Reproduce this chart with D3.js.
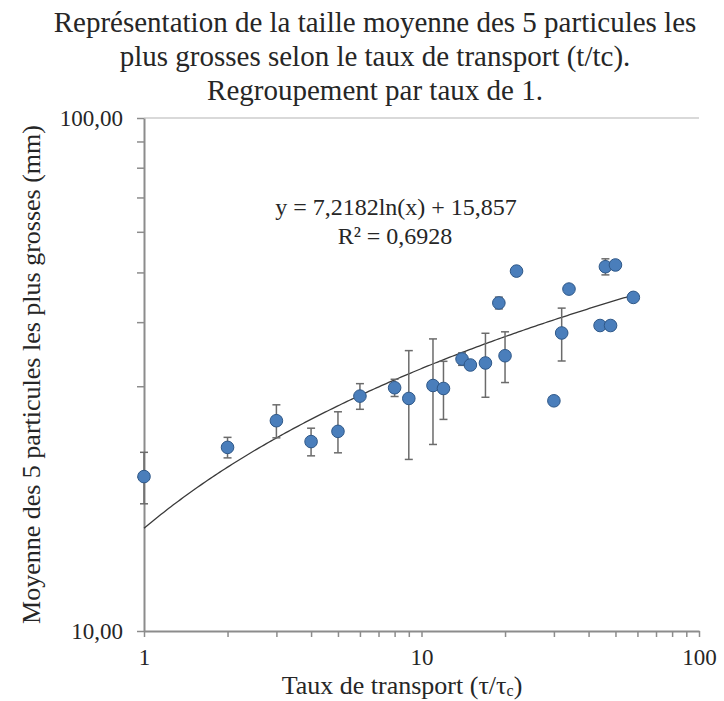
<!DOCTYPE html>
<html>
<head>
<meta charset="utf-8">
<script src="https://cdn.jsdelivr.net/npm/d3@7"></script>
<style>
  body { margin: 0; background: #fff; }
</style>
</head>
<body>
<div class="chart-wrapper"></div>
<script>
// data
const taux = [1, 2, 3, 4, 5, 6, 8, 9, 11, 12, 14, 15, 17, 19, 20, 22, 30, 32, 34, 44, 46, 48, 50, 58]
const tailles = [20.0, 22.8, 25.7, 23.4, 24.5, 28.7, 29.8, 28.4, 30.1, 29.7, 33.9, 33.0, 33.3, 43.6, 34.4, 50.3, 28.1, 38.1, 46.4, 39.4, 51.3, 39.4, 51.7, 44.7]
const ecarts = [2.3, 1.05, 1.9, 1.45, 2.25, 1.65, 1.15, 6.8, 7.0, 3.85, 0.95, 0, 4.75, 1.15, 3.9, 0, 0, 4.5, 0, 0, 1.85, 0, 0, 0]

// trendline from the chart equation: y = a ln(x) + b
const trendA = 7.2182
const trendB = 15.857
const trendRange = [1, 58]

const xMajor = [1, 10, 100]
const xMinor = [2, 3, 4, 5, 6, 7, 8, 9, 20, 30, 40, 50, 60, 70, 80, 90]
const yMajor = [10, 100]
const yMinor = [20, 30, 40, 50, 60, 70, 80, 90]

const titleLines = [
  'Représentation de la taille moyenne des 5 particules les',
  'plus grosses selon le taux de transport (t/tc).',
  'Regroupement par taux de 1.'
]

const width = 724
const height = 701
const plotLeft = 144, plotRight = 699, plotTop = 118, plotBottom = 631
const axisColor = '#8c8c8c'
const textColor = '#262626'
const font = '"Liberation Serif"'

let svg = d3.select('.chart-wrapper').append('svg')
    .attr('width', width)
    .attr('height', height)

let x = d3.scaleLog().domain([1, 100]).range([plotLeft, plotRight])
let y = d3.scaleLog().domain([10, 100]).range([plotBottom, plotTop])

// title
svg.append('g').selectAll('text')
    .data(titleLines)
    .enter()
    .append('text')
    .attr('x', 375)
    .attr('y', (d, i) => 32 + i * 34)
    .attr('text-anchor', 'middle')
    .attr('font-family', font)
    .attr('font-size', 29)
    .attr('fill', textColor)
    .text(d => d)

// gridline at 100
svg.append('line')
    .attr('x1', plotLeft).attr('x2', plotRight)
    .attr('y1', y(100)).attr('y2', y(100))
    .attr('stroke', '#d9d9d9')
    .attr('stroke-width', 2)

// y axis
let yAxis = svg.append('g')
    .attr('transform', `translate(${plotLeft},0)`)
    .call(d3.axisLeft(y)
        .tickValues(yMajor.concat(yMinor))
        .tickSize(7)
        .tickSizeOuter(0)
        .tickPadding(14)
        .tickFormat(d => yMajor.includes(d) ? d3.format('.2f')(d).replace('.', ',') : ''))
yAxis.attr('font-family', null).attr('font-size', null)
yAxis.select('.domain').attr('stroke', axisColor).attr('stroke-width', 2)
yAxis.selectAll('.tick line').attr('stroke', axisColor).attr('stroke-width', 1.5)
yAxis.selectAll('.tick text').attr('fill', textColor).attr('font-family', font).attr('font-size', 23)

// x axis
let xAxis = svg.append('g')
    .attr('transform', `translate(0,${plotBottom})`)
    .call(d3.axisBottom(x)
        .tickValues(xMajor.concat(xMinor))
        .tickSize(6)
        .tickSizeOuter(0)
        .tickPadding(12)
        .tickFormat(d => xMajor.includes(d) ? d : ''))
xAxis.attr('font-family', null).attr('font-size', null)
xAxis.select('.domain').attr('stroke', axisColor).attr('stroke-width', 2)
xAxis.selectAll('.tick line').attr('stroke', axisColor).attr('stroke-width', 1.5)
xAxis.selectAll('.tick text').attr('fill', textColor).attr('font-family', font).attr('font-size', 23)

// axis titles
svg.append('text')
    .attr('transform', `translate(40, ${(plotTop + plotBottom) / 2}) rotate(-90)`)
    .attr('text-anchor', 'middle')
    .attr('font-family', font)
    .attr('font-size', 26)
    .attr('fill', textColor)
    .text('Moyenne des 5 particules les plus grosses (mm)')

let xt = svg.append('text')
    .attr('x', 402)
    .attr('y', 694)
    .attr('text-anchor', 'middle')
    .attr('font-family', font)
    .attr('font-size', 26)
    .attr('fill', textColor)
xt.append('tspan').text('Taux de transport (τ/τ')
xt.append('tspan').attr('dy', 2).attr('font-size', 16).text('c')
xt.append('tspan').attr('dy', -2).text(')')

// trendline
let trendX = d3.range(0, 201).map(i => trendRange[0] * Math.pow(trendRange[1] / trendRange[0], i / 200))
svg.append('path')
    .datum(trendX)
    .attr('fill', 'none')
    .attr('stroke', '#3a3a3a')
    .attr('stroke-width', 1.3)
    .attr('d', d3.line()
        .x(d => x(d))
        .y(d => y(trendA * Math.log(d) + trendB)))

// equation
let eq = svg.append('g')
    .attr('fill', textColor)
    .attr('text-anchor', 'middle')
eq.append('text').attr('x', 396).attr('y', 215)
    .attr('font-family', font).attr('font-size', 24)
    .text('y = 7,2182ln(x) + 15,857')
eq.append('text').attr('x', 395).attr('y', 244)
    .attr('font-family', font).attr('font-size', 24)
    .text('R² = 0,6928')

// error bars
let points = taux.map((t, i) => ({ t: t, v: tailles[i], e: ecarts[i] }))
let bars = svg.append('g').attr('class', 'errors')
    .selectAll('g')
    .data(points.filter(d => d.e > 0))
    .enter()
    .append('g')
    .attr('stroke', '#6b6b6b')
    .attr('stroke-width', 1.5)
bars.append('line')
    .attr('x1', d => x(d.t)).attr('x2', d => x(d.t))
    .attr('y1', d => y(d.v + d.e)).attr('y2', d => y(d.v - d.e))
bars.append('line')
    .attr('x1', d => x(d.t) - 4).attr('x2', d => x(d.t) + 4)
    .attr('y1', d => y(d.v + d.e)).attr('y2', d => y(d.v + d.e))
bars.append('line')
    .attr('x1', d => x(d.t) - 4).attr('x2', d => x(d.t) + 4)
    .attr('y1', d => y(d.v - d.e)).attr('y2', d => y(d.v - d.e))

// points
svg.append('g').attr('class', 'points')
    .selectAll('circle')
    .data(points)
    .enter()
    .append('circle')
    .attr('cx', d => x(d.t))
    .attr('cy', d => y(d.v))
    .attr('r', 6.3)
    .attr('fill', '#4a7ebb')
    .attr('stroke', '#2f5888')
    .attr('stroke-width', 1)
</script>
</body>
</html>
